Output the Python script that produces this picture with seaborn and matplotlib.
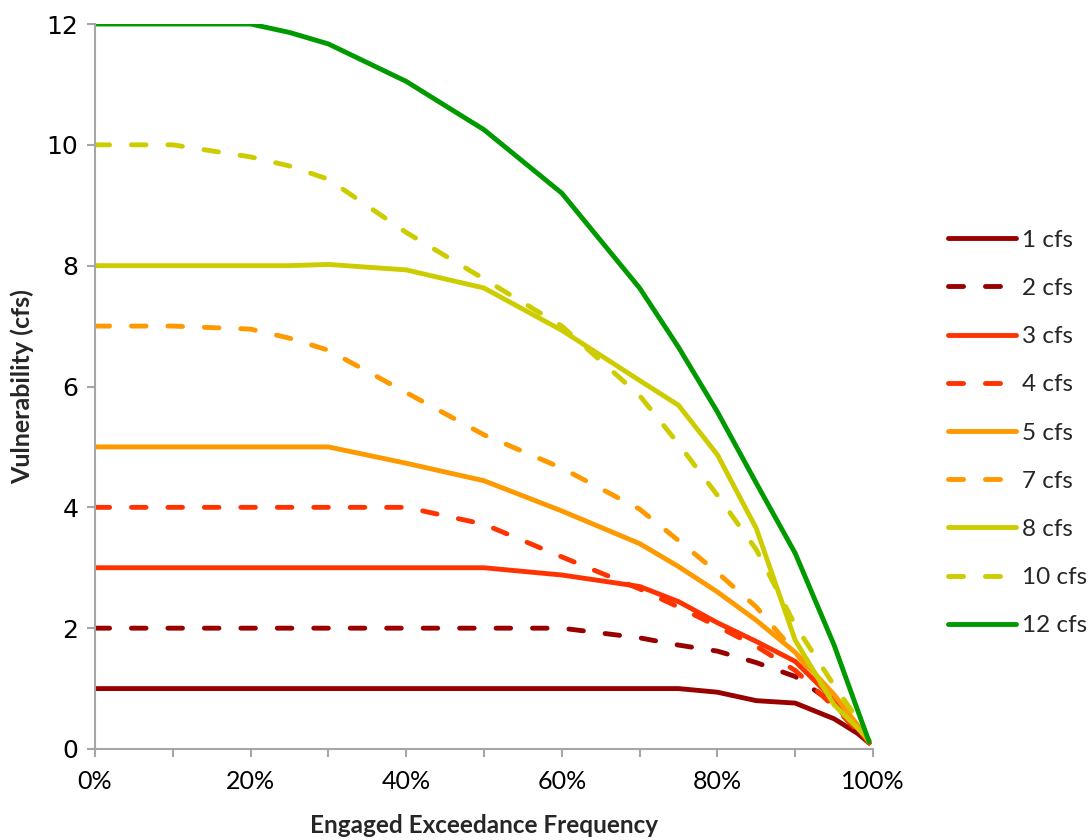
import matplotlib
matplotlib.use("Agg")
import matplotlib.pyplot as plt
import seaborn as sns
import pandas as pd
from matplotlib.lines import Line2D
from matplotlib.ticker import FixedLocator, FuncFormatter

# ---- data ----
freq = [0, 10, 20, 25, 30, 40, 50, 60, 70, 75, 80, 85, 90, 95, 98, 99.5]

cfs1  = [1, 1, 1, 1, 1, 1, 1, 1, 1, 1, 0.94, 0.80, 0.76, 0.50, 0.26, 0.10]
cfs2  = [2, 2, 2, 2, 2, 2, 2, 2, 1.84, 1.72, 1.62, 1.43, 1.20, 0.75, 0.30, 0.10]
cfs3  = [3, 3, 3, 3, 3, 3, 3, 2.88, 2.69, 2.44, 2.09, 1.78, 1.45, 0.81, 0.35, 0.10]
cfs4  = [4, 4, 4, 4, 4, 4, 3.72, 3.18, 2.65, 2.35, 2.03, 1.70, 1.30, 0.70, 0.30, 0.10]
cfs5  = [5, 5, 5, 5, 5, 4.73, 4.44, 3.94, 3.40, 3.02, 2.60, 2.13, 1.60, 0.90, 0.40, 0.12]
cfs7  = [7, 7, 6.95, 6.80, 6.60, 5.90, 5.20, 4.65, 3.97, 3.45, 2.92, 2.35, 1.60, 0.80, 0.35, 0.12]
cfs8  = [8, 8, 8, 8, 8.02, 7.93, 7.63, 6.93, 6.10, 5.69, 4.87, 3.65, 1.80, 0.73, 0.35, 0.15]
cfs10 = [10, 10, 9.80, 9.65, 9.43, 8.55, 7.78, 7.00, 5.85, 5.05, 4.20, 3.30, 2.05, 1.05, 0.50, 0.12]
cfs12 = [12, 12, 12, 11.86, 11.67, 11.05, 10.25, 9.20, 7.63, 6.65, 5.58, 4.40, 3.24, 1.72, 0.65, 0.12]

series_names = ["1 cfs", "2 cfs", "3 cfs", "4 cfs", "5 cfs", "7 cfs", "8 cfs", "10 cfs", "12 cfs"]
series_values = [cfs1, cfs2, cfs3, cfs4, cfs5, cfs7, cfs8, cfs10, cfs12]
series_colors = ["#990000", "#990000", "#FF3300", "#FF3300", "#FF9900", "#FF9900",
                 "#CCCC00", "#CCCC00", "#009900"]
series_dashed = [False, True, False, True, False, True, False, True, False]

y_ticks = [0, 2, 4, 6, 8, 10, 12]
x_major = [0, 20, 40, 60, 80, 100]
x_minor = [10, 30, 50, 70, 90]

# ---- style ----
sns.set_style("white")
plt.rcParams["font.family"] = ["Lato", "DejaVu Sans"]

fig = plt.figure(figsize=(10.91, 8.40), dpi=100)
ax = fig.add_axes([95 / 1091, 1 - 749 / 840, (873 - 95) / 1091, (749 - 24) / 840])

lw = 3.5
dash_pat = (3.0, 4.5)
legend_handles = []
for name, vals, col, dashed in zip(series_names, series_values, series_colors, series_dashed):
    df = pd.DataFrame({"freq": freq, "v": vals})
    sns.lineplot(data=df, x="freq", y="v", ax=ax, color=col, linewidth=lw,
                 legend=False, sort=False)
    line = ax.lines[-1]
    line.set_solid_capstyle("round")
    line.set_dash_capstyle("round")
    line.set_solid_joinstyle("round")
    if dashed:
        line.set_dashes(dash_pat)
        h = Line2D([], [], color=col, linewidth=lw, dash_capstyle="round",
                   dashes=(3.1, 4.5, 3.1, 30))
    else:
        h = Line2D([], [], color=col, linewidth=lw, solid_capstyle="round")
    legend_handles.append(h)

ax.set_xlim(0, 100)
ax.set_ylim(0, 12)
ax.xaxis.set_major_locator(FixedLocator(x_major))
ax.xaxis.set_minor_locator(FixedLocator(x_minor))
ax.xaxis.set_major_formatter(FuncFormatter(lambda v, p: f"{int(v)}%"))
ax.set_yticks(y_ticks)
ax.set_yticklabels([str(t) for t in y_ticks])

for s in ["top", "right"]:
    ax.spines[s].set_visible(False)
for s in ["left", "bottom"]:
    ax.spines[s].set_color("#A6A6A6")
    ax.spines[s].set_linewidth(1.5)

ax.tick_params(axis="both", which="both", direction="out", color="#A6A6A6",
               length=6, width=1.5, labelcolor="black")
ax.tick_params(axis="x", which="both", bottom=True, pad=9, labelsize=18)
ax.tick_params(axis="y", which="both", left=True, pad=6)
for t in ax.get_yticklabels():
    t.set_fontfamily("DejaVu Sans")
    t.set_fontsize(18)

ax.set_xlabel("Engaged Exceedance Frequency", fontsize=17.5, fontweight="bold", labelpad=15)
ax.set_ylabel("Vulnerability (cfs)", fontsize=18, fontweight="bold", labelpad=9)
ax.grid(False)

fig.legend(legend_handles, series_names, loc="center left", bbox_to_anchor=(0.849, 0.4845),
           frameon=False, fontsize=17.5, handlelength=2.8, handletextpad=0.25,
           labelspacing=1.12, borderpad=0.4)

fig.savefig("out.png", dpi=100)
